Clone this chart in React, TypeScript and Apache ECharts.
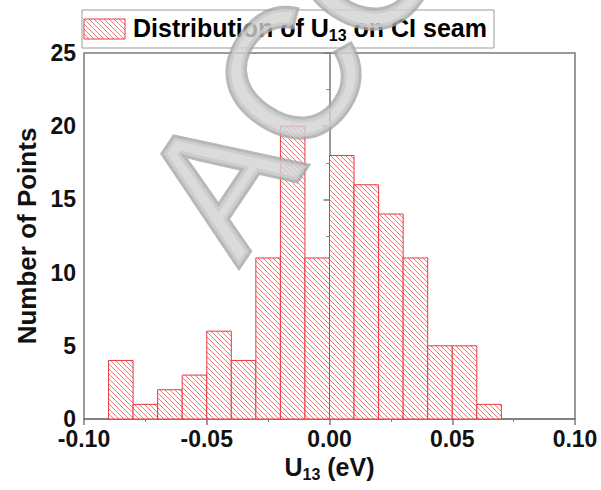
import React, { useEffect, useRef } from "react";
import * as echarts from "echarts";

const binEdges = [-0.09, -0.08, -0.07, -0.06, -0.05, -0.04, -0.03, -0.02, -0.01, 0.0, 0.01, 0.02, 0.03, 0.04, 0.05, 0.06, 0.07];
const counts = [4, 1, 2, 3, 6, 4, 11, 20, 11, 18, 16, 14, 11, 5, 5, 1];
const xTicks = { min: -0.1, max: 0.1, interval: 0.05 };
const yTicks = { min: 0, max: 25, interval: 5 };
const legendLabel = "Distribution of U13 on CI seam";
const xName = "U13 (eV)";
const yName = "Number of Points";
const watermark = "ACCEPTED MANUSCRIPT";

const RED = "#e8393f";
const AXIS = "#7a7a7a";
const FONT = "'Liberation Sans', Arial, sans-serif";

function makeHatch() {
  const c = document.createElement("canvas");
  const n = 5;
  c.width = n;
  c.height = n;
  const ctx = c.getContext("2d")!;
  ctx.fillStyle = "#ffffff";
  ctx.fillRect(0, 0, n, n);
  ctx.strokeStyle = "#f07a7a";
  ctx.lineWidth = 1;
  ctx.beginPath();
  ctx.moveTo(-1, -1);
  ctx.lineTo(n + 1, n + 1);
  ctx.moveTo(-1, n - 1);
  ctx.lineTo(1, n + 1);
  ctx.moveTo(n - 1, -1);
  ctx.lineTo(n + 1, 1);
  ctx.stroke();
  return c;
}

export default function App() {
  const ref = useRef<HTMLDivElement>(null);
  useEffect(() => {
    if (!ref.current) return;
    const chart = echarts.init(ref.current, undefined, { renderer: "svg" });
    const hatch = { image: makeHatch(), repeat: "repeat" } as any;
    const data = counts.map((v, i) => [binEdges[i], binEdges[i + 1], v]);
    const subRich = {
      a: { fontSize: 25, fontWeight: "bold", fontFamily: FONT, color: "#111" },
      s: { fontSize: 16, fontWeight: "bold", fontFamily: FONT, color: "#111", padding: [15, 0, 0, 0] },
    };
    const toRich = (t: string) => {
      const idx = t.indexOf("U13");
      return `{a|${t.slice(0, idx + 1)}}{s|13}{a|${t.slice(idx + 3)}}`;
    };
    chart.setOption({
      animation: false,
      backgroundColor: "#ffffff",
      grid: {
        left: 84,
        right: 26,
        top: 53,
        bottom: 71,
        show: true,
        borderColor: AXIS,
        borderWidth: 1.5,
        backgroundColor: "#ffffff",
      },
      xAxis: {
        type: "value",
        min: xTicks.min,
        max: xTicks.max,
        interval: xTicks.interval,
        splitLine: { show: false },
        axisLine: { show: true, lineStyle: { color: AXIS, width: 1.5 } },
        axisTick: { show: true, length: 6, lineStyle: { color: AXIS, width: 1.5 } },
        minorTick: { show: true, splitNumber: 2, length: 3, lineStyle: { color: AXIS, width: 1 } },
        axisLabel: {
          margin: 8,
          fontSize: 23,
          fontWeight: "bold",
          fontFamily: FONT,
          color: "#111",
          formatter: (v: number) => v.toFixed(2),
        },
        name: toRich(xName),
        nameLocation: "middle",
        nameGap: 30,
        nameTextStyle: { rich: subRich },
      },
      yAxis: {
        type: "value",
        min: yTicks.min,
        max: yTicks.max,
        interval: yTicks.interval,
        splitLine: { show: false },
        axisLine: { show: true, lineStyle: { color: AXIS, width: 1.5 } },
        axisTick: { show: true, length: 6, lineStyle: { color: AXIS, width: 1.5 } },
        minorTick: { show: true, splitNumber: 2, length: 3, lineStyle: { color: AXIS, width: 1 } },
        axisLabel: {
          margin: 8,
          fontSize: 23,
          fontWeight: "bold",
          fontFamily: FONT,
          color: "#111",
        },
        name: yName,
        nameLocation: "middle",
        nameGap: 40,
        nameTextStyle: { fontSize: 26, fontWeight: "bold", fontFamily: FONT, color: "#111" },
      },
      series: [
        {
          type: "custom",
          encode: { x: [0, 1], y: 2 },
          data,
          renderItem: (params: any, api: any) => {
            const tl = api.coord([api.value(0), api.value(2)]);
            const br = api.coord([api.value(1), 0]);
            return {
              type: "rect",
              shape: { x: tl[0], y: tl[1], width: br[0] - tl[0], height: br[1] - tl[1] },
              style: { fill: hatch, stroke: RED, lineWidth: 1 },
            };
          },
        },
      ],
      graphic: [
        {
          type: "rect",
          z: 50,
          shape: { x: 82, y: 10, width: 412, height: 38 },
          style: { fill: "#ffffff", stroke: "#9a9a9a", lineWidth: 1 },
        },
        {
          type: "rect",
          z: 51,
          shape: { x: 84, y: 19, width: 41, height: 20 },
          style: { fill: hatch, stroke: RED, lineWidth: 1 },
        },
        {
          type: "text",
          z: 51,
          x: 133,
          y: 28,
          style: {
            text: toRich(legendLabel),
            rich: subRich,
            verticalAlign: "middle",
            align: "left",
          },
        },
        {
          type: "text",
          z: 100,
          x: 262,
          y: 282,
          rotation: (56 * Math.PI) / 180,
          style: {
            text: watermark,
            fontSize: 182,
            fontFamily: FONT,
            fill: "#d2d2d2",
            stroke: "#a6a6a6",
            lineWidth: 6,
            opacity: 0.8,
            shadowBlur: 5,
            shadowColor: "rgba(0,0,0,0.35)",
            shadowOffsetX: 2,
            shadowOffsetY: 3,
            verticalAlign: "bottom",
            align: "left",
          },
        },
      ],
    });
    return () => chart.dispose();
  }, []);
  return (
    <div
      ref={ref}
      style={{ position: "absolute", left: 0, top: 0, width: 601, height: 490 }}
    />
  );
}
